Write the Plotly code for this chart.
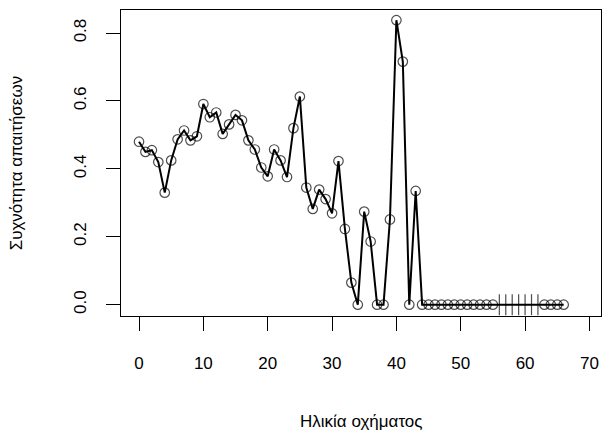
import plotly.graph_objects as go

# Vehicle age (years) and claim frequency per age
vehicle_age = list(range(0, 67))
claim_freq = [
    0.48, 0.45, 0.455, 0.42, 0.33, 0.425, 0.487, 0.513, 0.484, 0.496,
    0.591, 0.552, 0.566, 0.503, 0.531, 0.559, 0.543, 0.484, 0.457, 0.404,
    0.378, 0.457, 0.425, 0.376, 0.52, 0.613, 0.345, 0.282, 0.339, 0.311,
    0.269, 0.423, 0.223, 0.065, 0.0, 0.274, 0.186, 0.0, 0.0, 0.251,
    0.838, 0.716, 0.0, 0.335, 0.0, 0.0, 0.0, 0.0, 0.0, 0.0,
    0.0, 0.0, 0.0, 0.0, 0.0, 0.0, 0.0, 0.0, 0.0, 0.0,
    0.0, 0.0, 0.0, 0.0, 0.0, 0.0, 0.0,
]
# ages drawn with a bar symbol instead of a circle
bar_ages = [56, 57, 58, 59, 60, 61, 62]

x_ticks = [0, 10, 20, 30, 40, 50, 60, 70]
y_ticks = [0.0, 0.2, 0.4, 0.6, 0.8]
y_tick_text = ["0.0", "0.2", "0.4", "0.6", "0.8"]

x_title = "Ηλικία οχήματος"
y_title = "Συχνότητα απαιτήσεων"

FONT = "Liberation Sans, Arial, sans-serif"

symbols = ["line-ns-open" if a in bar_ages else "circle-open" for a in vehicle_age]
sizes = [15 if a in bar_ages else 9.5 for a in vehicle_age]

fig = go.Figure()
fig.add_trace(go.Scatter(
    x=vehicle_age,
    y=claim_freq,
    mode="lines+markers",
    line=dict(color="black", width=2),
    marker=dict(symbol=symbols, size=sizes, color="black",
                line=dict(color="black", width=1.2)),
    showlegend=False,
))

axis_common = dict(
    showgrid=False, zeroline=False,
    showline=True, mirror=True, linecolor="black", linewidth=1,
    ticks="outside", ticklen=14, tickwidth=1, tickcolor="black",
    tickfont=dict(family=FONT, size=17, color="black"),
)

fig.update_layout(
    width=605, height=438,
    margin=dict(l=121, r=4, t=10, b=122),
    paper_bgcolor="white", plot_bgcolor="white",
    xaxis=dict(range=[-2.8, 71.8], tickvals=x_ticks, ticklabelstandoff=18, **axis_common),
    yaxis=dict(range=[-0.0334, 0.868], tickvals=y_ticks, ticktext=y_tick_text,
               tickangle=-90, ticklabelstandoff=13, **axis_common),
    annotations=[
        dict(text=x_title, xref="paper", yref="paper", x=0.5, y=-0.345,
             xanchor="center", yanchor="middle", showarrow=False,
             font=dict(family=FONT, size=17, color="black")),
        dict(text=y_title, xref="paper", yref="paper", x=-0.218, y=0.5,
             xanchor="center", yanchor="middle", showarrow=False, textangle=-90,
             font=dict(family=FONT, size=17, color="black")),
    ],
)

fig.write_html("out.html")
